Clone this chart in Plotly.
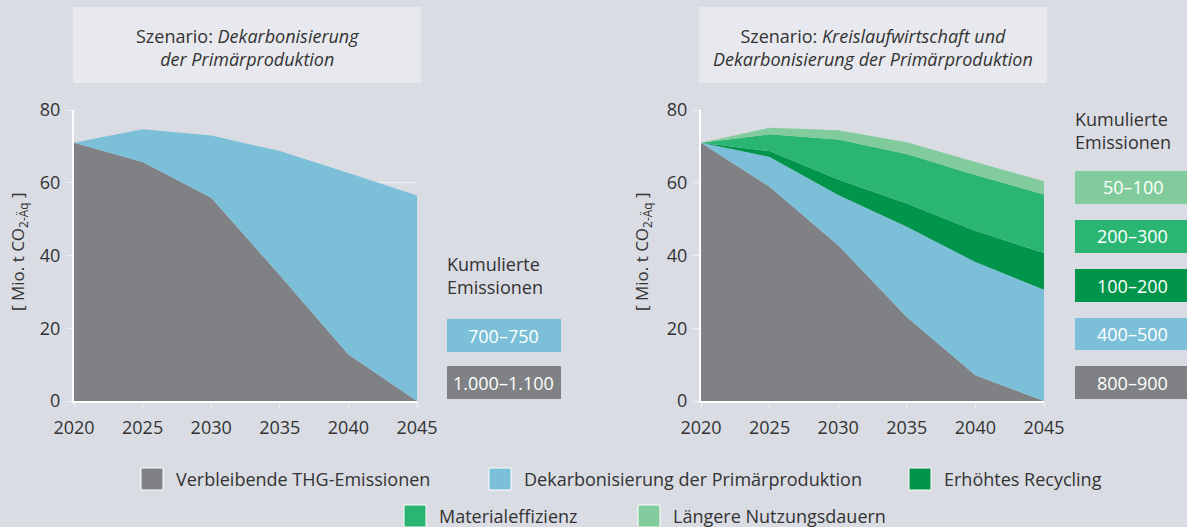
import plotly.graph_objects as go

years = [2020, 2025, 2030, 2035, 2040, 2045]

# Left scenario: Dekarbonisierung der Primärproduktion (stacked increments, Mio. t CO2-Äq)
left_remaining = [71.0, 65.7, 55.9, 34.6, 12.8, 0.0]
left_decarb = [0.0, 9.0, 17.1, 34.1, 49.9, 56.5]

# Right scenario: Kreislaufwirtschaft und Dekarbonisierung (stacked increments)
right_remaining = [71.0, 58.9, 42.8, 23.1, 7.1, 0.0]
right_decarb = [0.0, 8.2, 13.8, 24.8, 31.1, 30.6]
right_recycling = [0.0, 1.6, 4.3, 6.4, 8.6, 10.1]
right_material = [0.0, 4.6, 11.0, 13.6, 15.3, 16.1]
right_lifetime = [0.0, 1.8, 2.5, 3.2, 3.6, 3.6]

series_names = ["Verbleibende THG-Emissionen", "Dekarbonisierung der Primärproduktion",
                "Erhöhtes Recycling", "Materialeffizienz", "Längere Nutzungsdauern"]
left_cum_labels = ["700–750", "1.000–1.100"]
right_cum_labels = ["50–100", "200–300", "100–200", "400–500", "800–900"]

y_ticks = [0, 20, 40, 60, 80]
x_ticks = [2020, 2025, 2030, 2035, 2040, 2045]

C_GRAY = "#808184"
C_BLUE = "#7bbfd8"
C_DGREEN = "#00954b"
C_MGREEN = "#2bb573"
C_LGREEN = "#82cb9c"
BG = "#d9dce3"
BOX = "#e8e9ee"
TXT = "#333333"
FONT = "Open Sans"

W, H = 1187, 527

def px(x):
    return x / W

def py(y):
    return 1 - y / H

fig = go.Figure()

def add_area(xa, ya, vals, color, group, name):
    fig.add_trace(go.Scatter(
        x=years, y=vals, xaxis=xa, yaxis=ya, stackgroup=group, name=name,
        mode="lines", line=dict(width=0, color=color), fillcolor=color,
        showlegend=False, hoverinfo="x+y+name"))

add_area("x", "y", left_remaining, C_GRAY, "L", series_names[0])
add_area("x", "y", left_decarb, C_BLUE, "L", series_names[1])

add_area("x2", "y2", right_remaining, C_GRAY, "R", series_names[0])
add_area("x2", "y2", right_decarb, C_BLUE, "R", series_names[1])
add_area("x2", "y2", right_recycling, C_DGREEN, "R", series_names[2])
add_area("x2", "y2", right_material, C_MGREEN, "R", series_names[3])
add_area("x2", "y2", right_lifetime, C_LGREEN, "R", series_names[4])

ydom = [py(401), py(110)]
xdom1 = [px(74), px(417)]
xdom2 = [px(701), px(1044)]

axis_common_x = dict(range=[2020, 2045], tickvals=x_ticks, showgrid=False, zeroline=False,
                     showline=True, linecolor="white", linewidth=2, automargin=False,
                     ticks="outside", ticklen=6, tickcolor="#eef0f4", tickwidth=1,
                     ticklabelstandoff=3,
                     tickfont=dict(family=FONT, size=18, color=TXT), fixedrange=True)
axis_common_y = dict(range=[0, 80], tickvals=y_ticks, showgrid=True, gridcolor="#eceef2",
                     gridwidth=1, zeroline=False, showline=True, linecolor="white", linewidth=2,
                     automargin=False, ticklabelstandoff=2,
                     ticks="outside", ticklen=6, tickcolor="#eef0f4", tickwidth=1,
                     tickfont=dict(family=FONT, size=18, color=TXT), fixedrange=True)

fig.update_layout(
    width=W, height=H,
    margin=dict(l=0, r=0, t=0, b=0, autoexpand=False),
    paper_bgcolor=BG, plot_bgcolor=BG,
    font=dict(family=FONT, color=TXT),
    showlegend=False,
    xaxis=dict(domain=xdom1, anchor="y", **axis_common_x),
    yaxis=dict(domain=ydom, anchor="x", **axis_common_y),
    xaxis2=dict(domain=xdom2, anchor="y2", **axis_common_x),
    yaxis2=dict(domain=ydom, anchor="x2", **axis_common_y),
)

shapes = []
annotations = []

# Title boxes
for (x0, x1, text) in [
    (73, 421, "Szenario: <i>Dekarbonisierung</i><br><i>der Primärproduktion</i>"),
    (699, 1047, "Szenario: <i>Kreislaufwirtschaft und</i><br><i>Dekarbonisierung der Primärproduktion</i>"),
]:
    shapes.append(dict(type="rect", xref="paper", yref="paper", x0=px(x0), x1=px(x1),
                       y0=py(83), y1=py(7), fillcolor=BOX, line=dict(width=0), layer="below"))
    annotations.append(dict(xref="paper", yref="paper", x=px((x0 + x1) / 2), y=py(47),
                            text=text, showarrow=False, xanchor="center", yanchor="middle",
                            font=dict(family=FONT, size=18, color=TXT), align="center"))

# Y axis titles
for xc in [18, 642]:
    annotations.append(dict(xref="paper", yref="paper", x=px(xc), y=py(252),
                            text="[ Mio. t CO<sub>2-Äq</sub> ]", textangle=-90, showarrow=False,
                            xanchor="center", yanchor="middle",
                            font=dict(family=FONT, size=17, color=TXT)))

# Side legends "Kumulierte Emissionen"
def side_legend(x0, x1, title_y, boxes):
    annotations.append(dict(xref="paper", yref="paper", x=px(x0 - 2), y=py(title_y),
                            text="Kumulierte<br>Emissionen", showarrow=False,
                            xanchor="left", yanchor="middle", align="left",
                            font=dict(family=FONT, size=18, color=TXT)))
    for (label, color, y0, y1) in boxes:
        shapes.append(dict(type="rect", xref="paper", yref="paper", x0=px(x0), x1=px(x1),
                           y0=py(y1), y1=py(y0), fillcolor=color, line=dict(width=0)))
        annotations.append(dict(xref="paper", yref="paper", x=px((x0 + x1) / 2), y=py((y0 + y1) / 2),
                                text=label, showarrow=False, xanchor="center", yanchor="middle",
                                font=dict(family=FONT, size=18, color="white")))

side_legend(447, 561, 275, [
    (left_cum_labels[0], C_BLUE, 319, 352),
    (left_cum_labels[1], C_GRAY, 366, 399),
])
side_legend(1075, 1190, 130, [
    (right_cum_labels[0], C_LGREEN, 171, 204),
    (right_cum_labels[1], C_MGREEN, 220, 253),
    (right_cum_labels[2], C_DGREEN, 269, 302),
    (right_cum_labels[3], C_BLUE, 318, 350),
    (right_cum_labels[4], C_GRAY, 366, 399),
])

# Bottom legend
legend_items = [
    (series_names[0], C_GRAY, 141, 479),
    (series_names[1], C_BLUE, 489, 479),
    (series_names[2], C_DGREEN, 909, 479),
    (series_names[3], C_MGREEN, 404, 516),
    (series_names[4], C_LGREEN, 638, 516),
]
for (name, color, bx, cy) in legend_items:
    shapes.append(dict(type="rect", xref="paper", yref="paper", x0=px(bx), x1=px(bx + 22),
                       y0=py(cy + 11), y1=py(cy - 11), fillcolor=color,
                       line=dict(width=1, color="white")))
    annotations.append(dict(xref="paper", yref="paper", x=px(bx + 33), y=py(cy),
                            text=name, showarrow=False, xanchor="left", yanchor="middle",
                            font=dict(family=FONT, size=18, color=TXT)))

fig.update_layout(shapes=shapes, annotations=annotations)

fig.write_html("out.html", config={"displayModeBar": False},
               post_script="document.body.style.margin='0';document.body.style.overflow='hidden';")
